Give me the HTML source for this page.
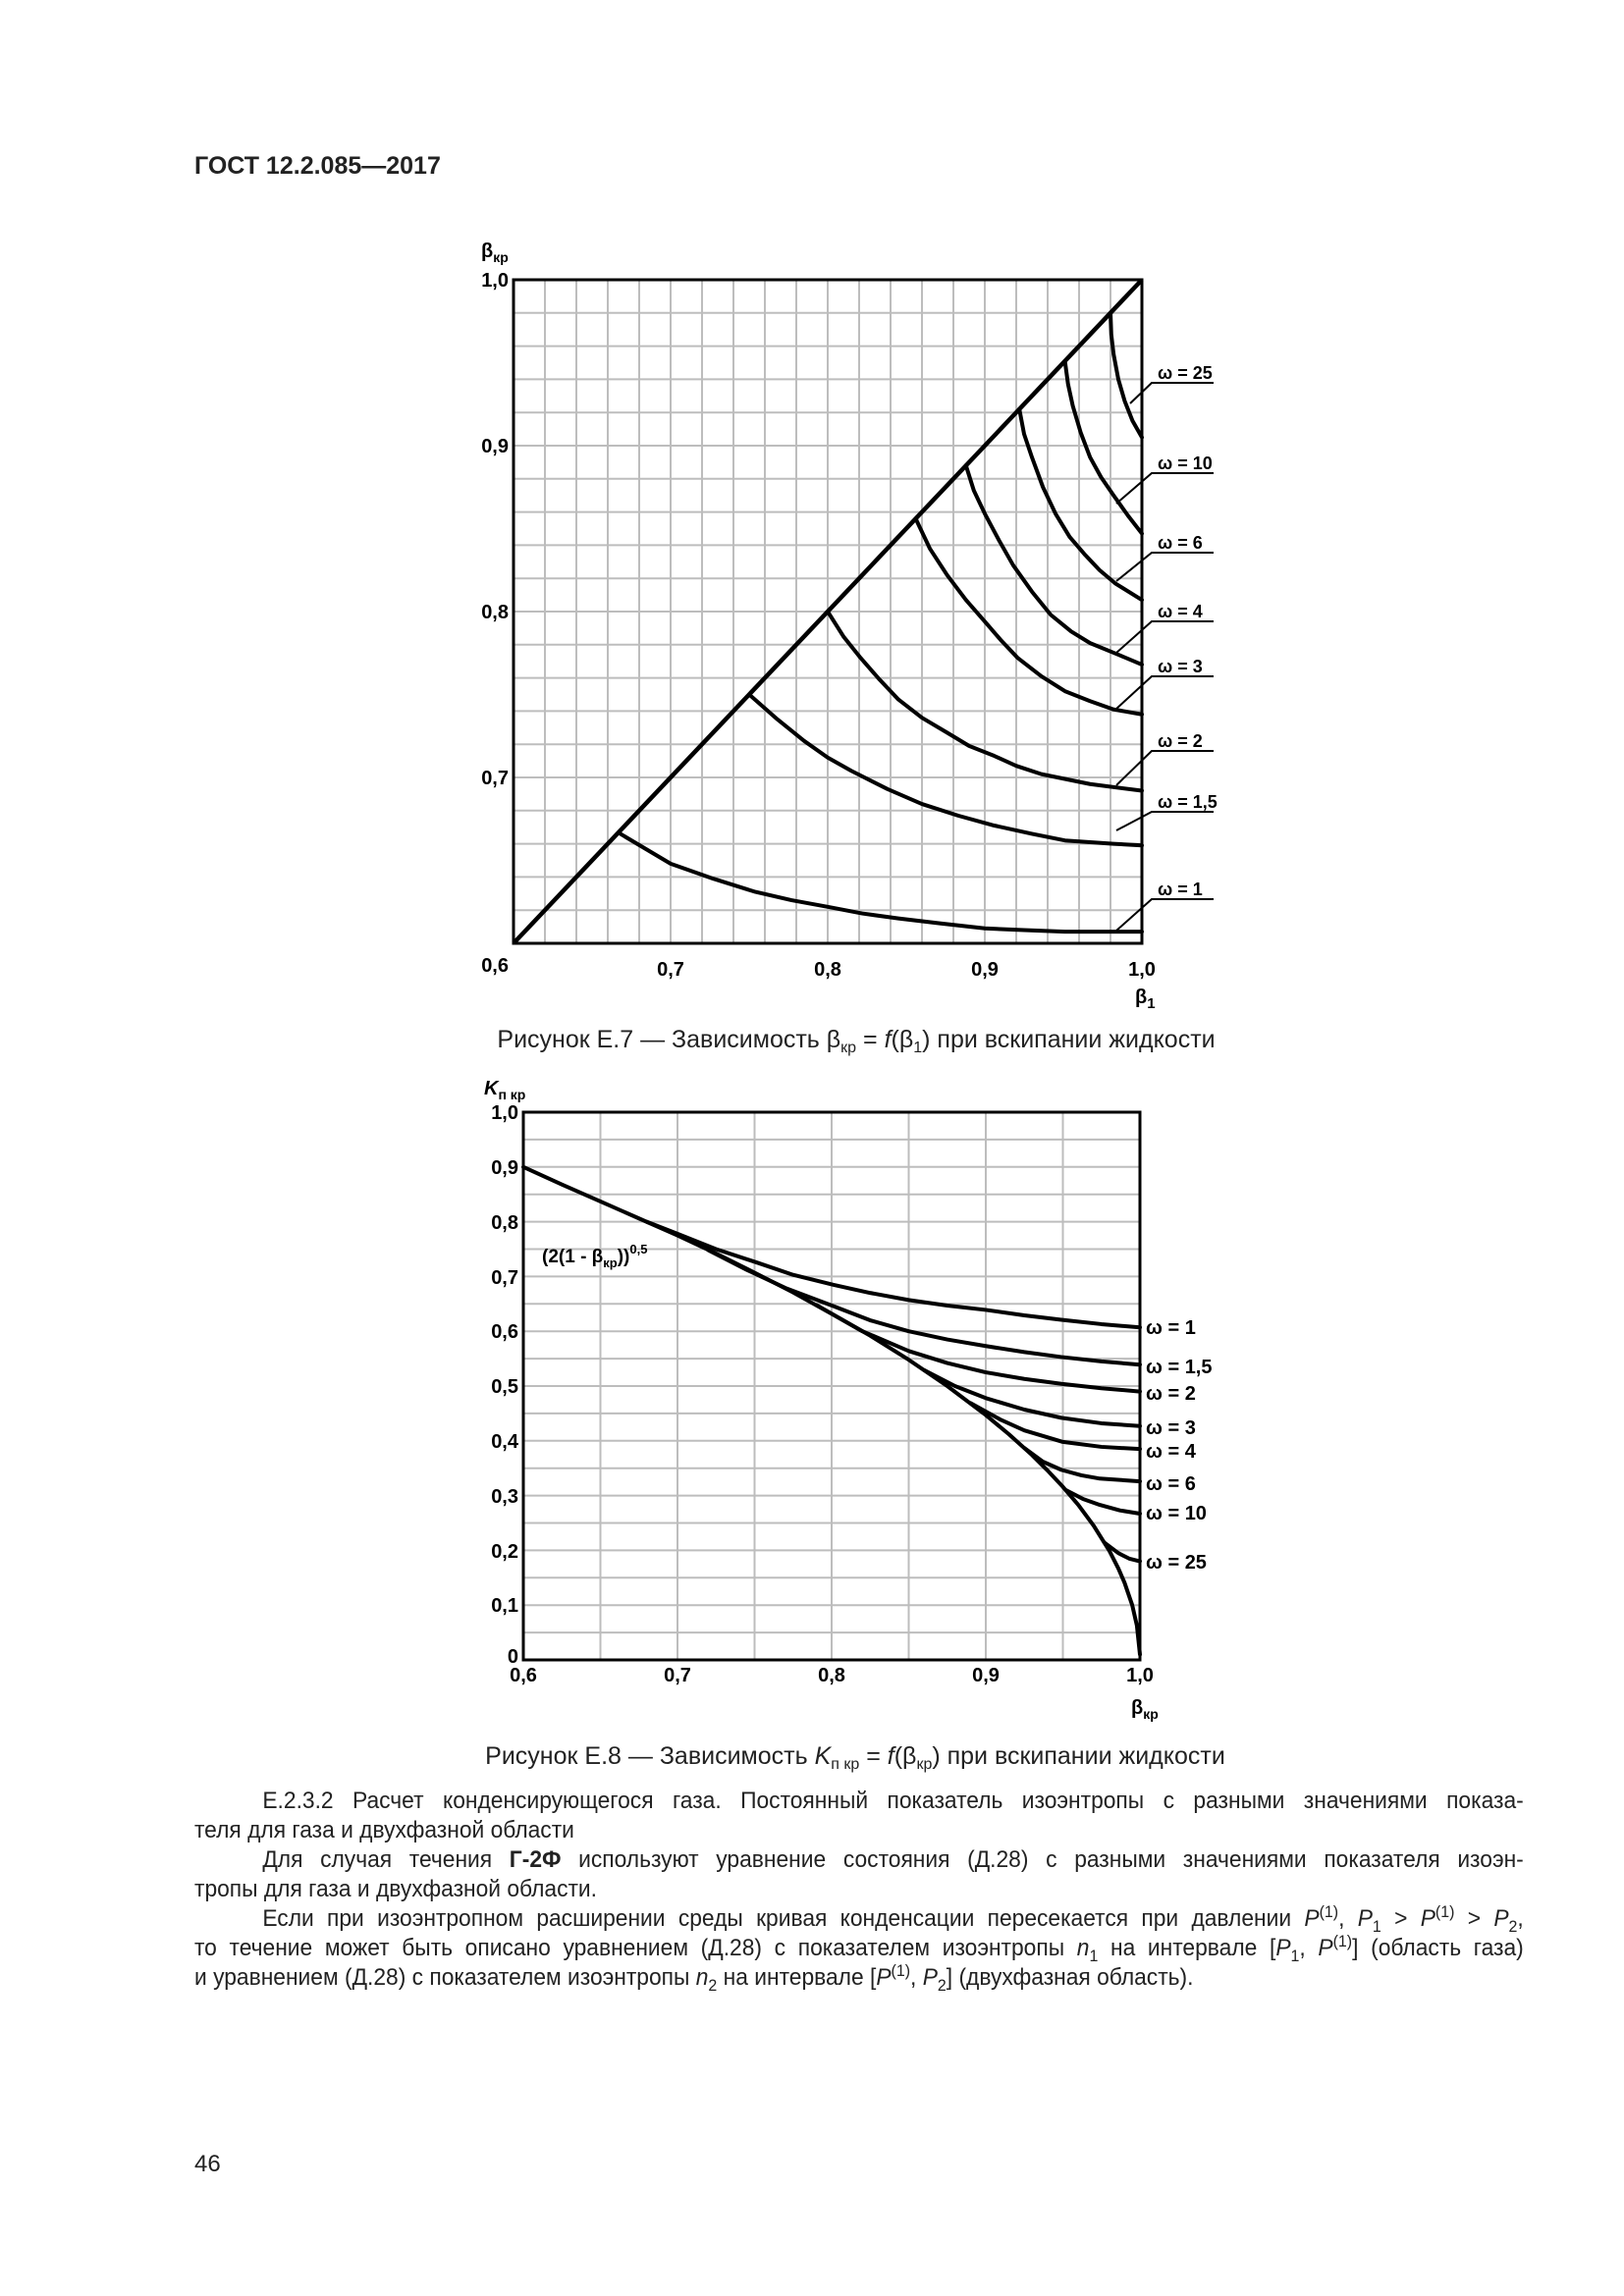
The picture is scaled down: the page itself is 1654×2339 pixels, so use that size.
<!DOCTYPE html>
<html><head><meta charset="utf-8">
<style>
html,body{margin:0;padding:0;background:#fff;}
body{width:1654px;height:2339px;position:relative;overflow:hidden;font-family:"Liberation Sans",sans-serif;}
.p{position:absolute;left:198px;width:1425px;transform:scaleX(0.95);transform-origin:0 0;font-family:"Liberation Sans",sans-serif;font-size:24px;line-height:30px;color:#222;text-align:justify;}
.p div{height:30px;white-space:nowrap;}
sub,sup{font-size:70%;line-height:0;}
</style></head><body>
<svg width="1654" height="2339" style="position:absolute;left:0;top:0" font-family="Liberation Sans, sans-serif">
<text x="198" y="177" font-size="25" font-weight="bold" fill="#222">ГОСТ 12.2.085—2017</text>

<!-- Chart 1 grid -->
<g stroke="#bdbdbd" stroke-width="2">
<path d="M555 285V961M587 285V961M619 285V961M651 285V961M683 285V961M715 285V961M747 285V961M779 285V961M811 285V961M843 285V961M875 285V961M907 285V961M939 285V961M971 285V961M1003 285V961M1035 285V961M1067 285V961M1099 285V961M1131 285V961"/>
<path d="M523 318.8H1163M523 352.6H1163M523 386.4H1163M523 420.2H1163M523 454H1163M523 487.8H1163M523 521.6H1163M523 555.4H1163M523 589.2H1163M523 623H1163M523 656.8H1163M523 690.6H1163M523 724.4H1163M523 758.2H1163M523 792H1163M523 825.8H1163M523 859.6H1163M523 893.4H1163M523 927.2H1163"/>
</g>
<rect x="523" y="285" width="640" height="676" fill="none" stroke="#000" stroke-width="3"/>
<line x1="523" y1="961" x2="1163" y2="285" stroke="#000" stroke-width="4.5"/>
<g transform="matrix(1600 0 0 -1690 -437 1975)" fill="none" stroke="#000" stroke-width="4" stroke-linejoin="round" stroke-linecap="round">
<polyline vector-effect="non-scaling-stroke" points=".668,.666 .7,.648 .727,.639 .754,.631 .777,.626 .8,.622 .822,.618 .845,.615 .872,.612 .9,.609 .925,.608 .951,.607 1,.607"/>
<polyline vector-effect="non-scaling-stroke" points=".75,.75 .768,.735 .785,.722 .8,.712 .815,.704 .838,.693 .86,.684 .883,.677 .906,.671 .93,.666 .951,.662 .982,.660 1,.659"/>
<polyline vector-effect="non-scaling-stroke" points=".8,.8 .81,.785 .821,.772 .833,.759 .845,.747 .86,.736 .876,.727 .89,.719 .906,.713 .92,.707 .936,.702 .967,.696 1,.692"/>
<polyline vector-effect="non-scaling-stroke" points=".856,.856 .865,.838 .876,.822 .888,.807 .9,.794 .91,.783 .921,.772 .936,.761 .951,.752 .967,.746 .982,.741 1,.738"/>
<polyline vector-effect="non-scaling-stroke" points=".888,.888 .893,.873 .9,.859 .909,.843 .918,.828 .93,.812 .942,.798 .955,.788 .967,.781 .985,.774 1,.768"/>
<polyline vector-effect="non-scaling-stroke" points=".922,.922 .925,.907 .93,.893 .937,.875 .945,.859 .954,.845 .964,.834 .973,.825 .983,.817 1,.807"/>
<polyline vector-effect="non-scaling-stroke" points=".951,.951 .953,.937 .956,.924 .961,.908 .967,.893 .974,.881 .982,.870 .991,.858 1,.847"/>
<polyline vector-effect="non-scaling-stroke" points=".980,.980 .9805,.967 .982,.955 .985,.94 .989,.927 .994,.915 1,.905"/>
</g>
<g stroke="#000" stroke-width="2" fill="none">
<polyline points="1151,411 1173,390 1236,390"/>
<polyline points="1137,513 1173,482 1236,482"/>
<polyline points="1137,592 1173,563 1236,563"/>
<polyline points="1137,665 1173,633 1236,633"/>
<polyline points="1137,722 1173,689 1236,689"/>
<polyline points="1137,800 1173,765 1236,765"/>
<polyline points="1137,846 1173,827 1236,827"/>
<polyline points="1137,948 1173,916 1236,916"/>
</g>
<g font-size="18" font-weight="bold" fill="#000">
<text x="1179" y="386">ω = 25</text>
<text x="1179" y="478">ω = 10</text>
<text x="1179" y="559">ω = 6</text>
<text x="1179" y="629">ω = 4</text>
<text x="1179" y="685">ω = 3</text>
<text x="1179" y="761">ω = 2</text>
<text x="1179" y="823">ω = 1,5</text>
<text x="1179" y="912">ω = 1</text>
</g>
<g font-size="20" font-weight="bold" fill="#000">
<text x="490" y="262">β<tspan font-size="14" dy="5">кр</tspan></text>
<text x="518" y="292" text-anchor="end">1,0</text>
<text x="518" y="461" text-anchor="end">0,9</text>
<text x="518" y="630" text-anchor="end">0,8</text>
<text x="518" y="799" text-anchor="end">0,7</text>
<text x="518" y="990" text-anchor="end">0,6</text>
<text x="683" y="994" text-anchor="middle">0,7</text>
<text x="843" y="994" text-anchor="middle">0,8</text>
<text x="1003" y="994" text-anchor="middle">0,9</text>
<text x="1163" y="994" text-anchor="middle">1,0</text>
<text x="1156" y="1022">β<tspan font-size="15" dy="5">1</tspan></text>
</g>
<text x="872" y="1067" font-size="25" text-anchor="middle" fill="#222">Рисунок Е.7 — Зависимость β<tspan font-size="16" dy="5">кр</tspan><tspan dy="-5"> = </tspan><tspan font-style="italic">f</tspan>(β<tspan font-size="16" dy="5">1</tspan><tspan dy="-5">) при вскипании жидкости</tspan></text>

<!-- Chart 2 -->
<g stroke="#bdbdbd" stroke-width="2">
<path d="M611.5 1133V1691M690 1133V1691M768.5 1133V1691M847 1133V1691M925.5 1133V1691M1004 1133V1691M1082.5 1133V1691"/>
<path d="M533 1160.9H1161M533 1188.8H1161M533 1216.7H1161M533 1244.6H1161M533 1272.5H1161M533 1300.4H1161M533 1328.3H1161M533 1356.2H1161M533 1384.1H1161M533 1412H1161M533 1439.9H1161M533 1467.8H1161M533 1495.7H1161M533 1523.6H1161M533 1551.5H1161M533 1579.4H1161M533 1607.3H1161M533 1635.2H1161M533 1663.1H1161"/>
</g>
<rect x="533" y="1133" width="628" height="558" fill="none" stroke="#000" stroke-width="3"/>
<g transform="matrix(1570 0 0 -558 -409 1691)" fill="none" stroke="#000" stroke-width="4" stroke-linejoin="round" stroke-linecap="round">
<polyline vector-effect="non-scaling-stroke" points=".6,.9 .625,.868 .65,.837 .675,.806 .7,.775 .725,.742 .75,.707 .775,.671 .8,.632 .825,.592 .85,.548 .875,.5 .9,.447 .915,.412 .93,.374 .94,.346 .95,.316 .96,.283 .97,.245 .98,.2 .986,.167 .99,.141 .995,.1 .998,.063 1,.01"/>
<polyline vector-effect="non-scaling-stroke" points=".68,.8 .7,.778 .725,.75 .752,.725 .775,.703 .801,.685 .825,.67 .85,.657 .875,.647 .9,.639 .925,.629 .949,.621 .975,.613 1,.607"/>
<polyline vector-effect="non-scaling-stroke" points=".72,.748 .745,.712 .77,.679 .801,.646 .825,.62 .85,.6 .875,.585 .9,.573 .925,.562 .949,.553 .975,.545 1,.539"/>
<polyline vector-effect="non-scaling-stroke" points=".79,.648 .82,.6 .85,.564 .875,.542 .9,.525 .925,.513 .949,.504 .975,.496 1,.49"/>
<polyline vector-effect="non-scaling-stroke" points=".86,.529 .88,.5 .9,.478 .925,.457 .949,.442 .975,.432 1,.427"/>
<polyline vector-effect="non-scaling-stroke" points=".89,.469 .91,.438 .925,.419 .95,.398 .975,.389 1,.385"/>
<polyline vector-effect="non-scaling-stroke" points=".925,.387 .937,.362 .949,.347 .962,.337 .974,.331 1,.326"/>
<polyline vector-effect="non-scaling-stroke" points=".952,.31 .963,.294 .974,.283 .987,.273 1,.267"/>
<polyline vector-effect="non-scaling-stroke" points=".977,.214 .986,.195 .993,.185 1,.18"/>
</g>
<g font-size="20" font-weight="bold" fill="#000">
<text x="1167" y="1359">ω = 1</text>
<text x="1167" y="1399">ω = 1,5</text>
<text x="1167" y="1426">ω = 2</text>
<text x="1167" y="1461">ω = 3</text>
<text x="1167" y="1485">ω = 4</text>
<text x="1167" y="1518">ω = 6</text>
<text x="1167" y="1548">ω = 10</text>
<text x="1167" y="1598">ω = 25</text>
</g>
<text x="552" y="1286" font-size="19" font-weight="bold">(2(1 - β<tspan font-size="13" dy="5">кр</tspan><tspan dy="-5">))</tspan><tspan font-size="13" dy="-9">0,5</tspan></text>
<g font-size="20" font-weight="bold" fill="#000">
<text x="493" y="1115"><tspan font-style="italic">K</tspan><tspan font-size="14" dy="5">п  кр</tspan></text>
<text x="528" y="1140" text-anchor="end">1,0</text>
<text x="528" y="1196" text-anchor="end">0,9</text>
<text x="528" y="1252" text-anchor="end">0,8</text>
<text x="528" y="1308" text-anchor="end">0,7</text>
<text x="528" y="1363" text-anchor="end">0,6</text>
<text x="528" y="1419" text-anchor="end">0,5</text>
<text x="528" y="1475" text-anchor="end">0,4</text>
<text x="528" y="1531" text-anchor="end">0,3</text>
<text x="528" y="1587" text-anchor="end">0,2</text>
<text x="528" y="1642" text-anchor="end">0,1</text>
<text x="528" y="1694" text-anchor="end">0</text>
<text x="533" y="1713" text-anchor="middle">0,6</text>
<text x="690" y="1713" text-anchor="middle">0,7</text>
<text x="847" y="1713" text-anchor="middle">0,8</text>
<text x="1004" y="1713" text-anchor="middle">0,9</text>
<text x="1161" y="1713" text-anchor="middle">1,0</text>
<text x="1152" y="1746">β<tspan font-size="14" dy="5">кр</tspan></text>
</g>
<text x="871" y="1797" font-size="25" text-anchor="middle" fill="#222">Рисунок Е.8 — Зависимость <tspan font-style="italic">K</tspan><tspan font-size="16" dy="5">п кр</tspan><tspan dy="-5"> = </tspan><tspan font-style="italic">f</tspan>(β<tspan font-size="16" dy="5">кр</tspan><tspan dy="-5">) при вскипании жидкости</tspan></text>
<text x="198" y="2212" font-size="24" fill="#222">46</text>
</svg>

<div class="p" style="top:1820px">
<div style="text-indent:73px;text-align-last:justify;white-space:normal">Е.2.3.2 Расчет конденсирующегося газа. Постоянный показатель изоэнтропы с разными значениями показа-</div>
<div>теля для газа и двухфазной области</div>
<div style="text-indent:73px;text-align-last:justify;white-space:normal">Для случая течения <b>Г-2Ф</b> используют уравнение состояния (Д.28) с разными значениями показателя изоэн-</div>
<div>тропы для газа и двухфазной области.</div>
<div style="text-indent:73px;text-align-last:justify;white-space:normal">Если при изоэнтропном расширении среды кривая конденсации пересекается при давлении <i>P</i><sup>(1)</sup>, <i>P</i><sub>1</sub> &gt; <i>P</i><sup>(1)</sup> &gt; <i>P</i><sub>2</sub>,</div>
<div style="text-align-last:justify;white-space:normal">то течение может быть описано уравнением (Д.28) с показателем изоэнтропы <i>n</i><sub>1</sub> на интервале [<i>P</i><sub>1</sub>, <i>P</i><sup>(1)</sup>] (область газа)</div>
<div>и уравнением (Д.28) с показателем изоэнтропы <i>n</i><sub>2</sub> на интервале [<i>P</i><sup>(1)</sup>, <i>P</i><sub>2</sub>] (двухфазная область).</div>
</div>
</body></html>
